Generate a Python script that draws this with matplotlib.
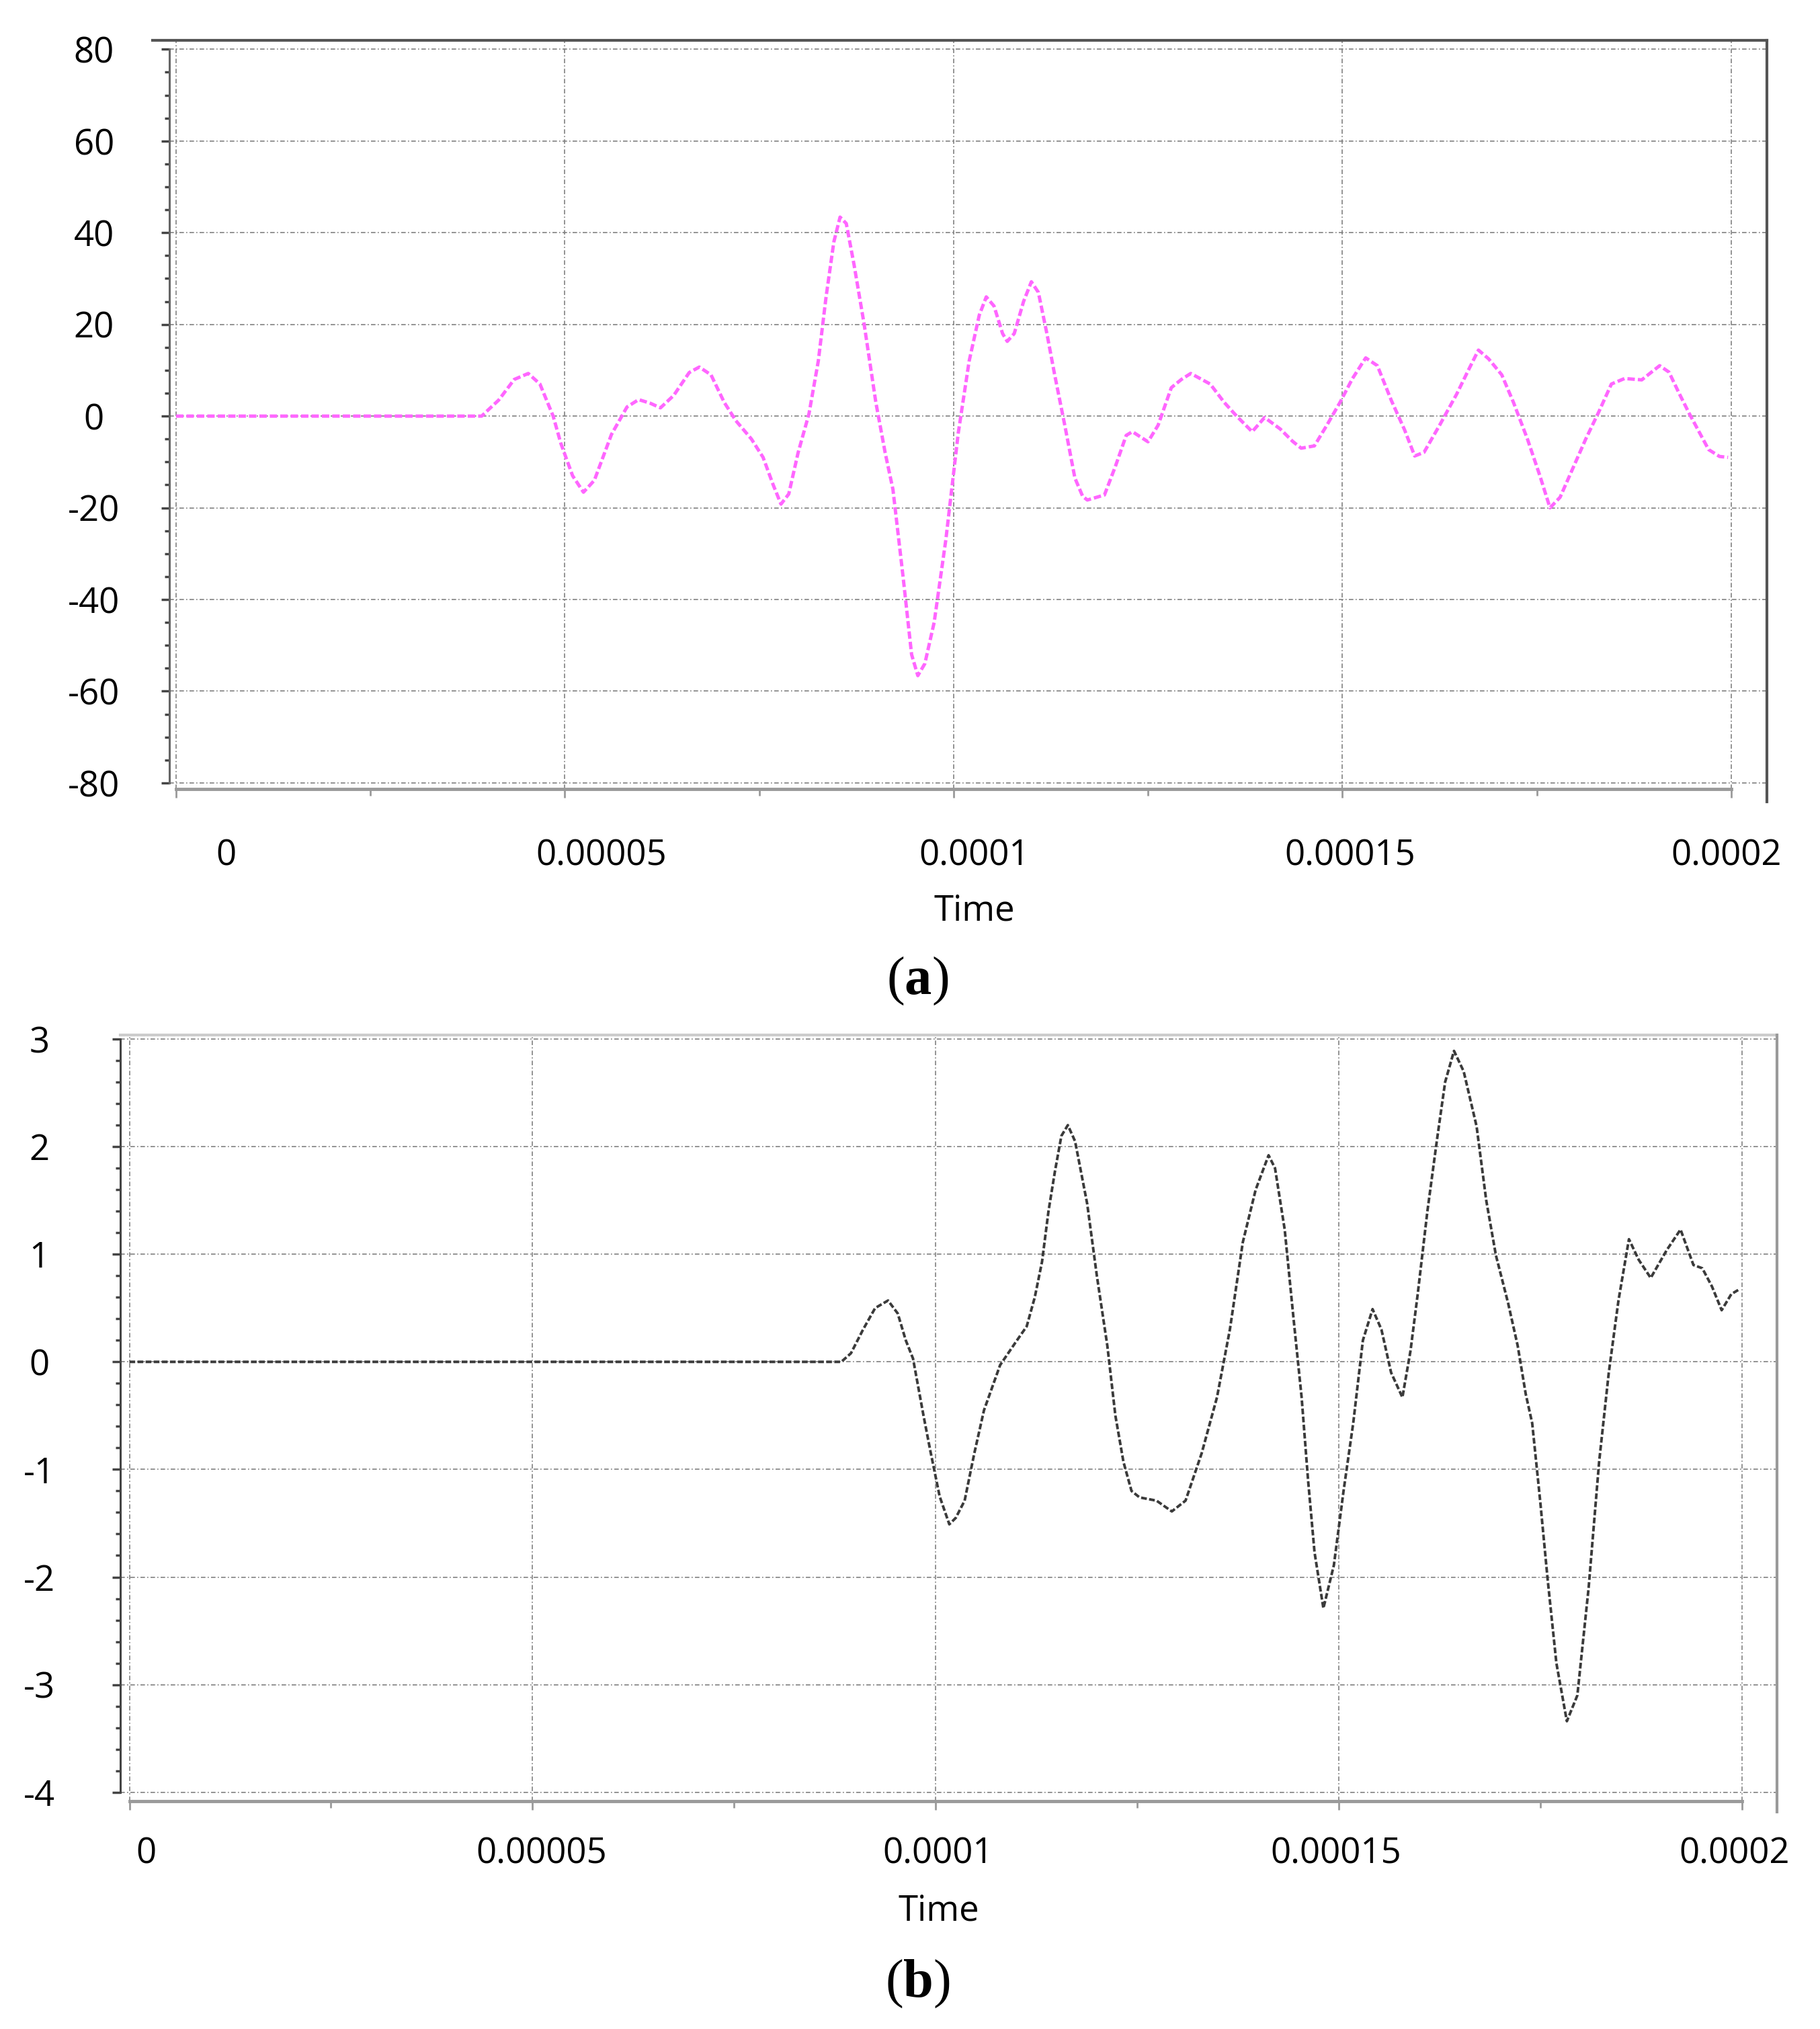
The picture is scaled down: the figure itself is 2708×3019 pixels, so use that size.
import numpy as np
import matplotlib
matplotlib.use("Agg")
import matplotlib.pyplot as plt
from matplotlib.ticker import MultipleLocator, FixedLocator
from matplotlib.transforms import ScaledTranslation

plt.rcParams["font.family"] = ["Open Sans", "DejaVu Sans"]
plt.rcParams["mathtext.fontset"] = "custom"
plt.rcParams["mathtext.rm"] = "Liberation Serif"
plt.rcParams["mathtext.bf"] = "Liberation Serif:bold"

# panel (a): time in microseconds, signal value
time_a_us = [0, 39.3, 41.5, 43.5, 45.3, 46.8, 48.5, 49.5, 51, 52.4, 53.8, 56, 58, 59.5, 61, 62.3,
             64, 66, 67.3, 68.8, 70.5, 72, 74, 75.5, 76.8, 77.8, 78.8, 80, 81.4, 82.6, 83.6, 84.6,
             85.4, 86.2, 87.2, 88.5, 90, 91.2, 92.2, 93.5, 94.6, 95.4, 96.3, 97.5, 99, 100.6, 102,
             103.3, 104.2, 105.2, 106.3, 106.9, 107.8, 109, 110, 110.9, 112, 113, 114.3, 115.6,
             116.6, 117.2, 119.4, 120.8, 122.2, 123, 124, 125, 126.3, 128, 129.3, 130.5, 133,
             134.8, 136.4, 138.4, 140, 142, 143.6, 144.7, 146.4, 148, 149.7, 151.3, 153, 154.5,
             156.3, 158, 159.3, 160.5, 162.5, 164.7, 166.2, 167.5, 168.8, 170.5, 172, 173.8,
             175.4, 176.7, 178, 180, 181.3, 183, 184.6, 186.3, 188.5, 190.8, 192, 193.3, 194.6,
             197.1, 198.5, 199.6]
value_a = [0, 0, 3.5, 8, 9.3, 7, 0, -6, -13, -16.6, -14, -4, 2, 3.6, 2.8, 1.8,
           4.5, 9.5, 10.7, 9, 3, -1, -5, -9, -15, -19.2, -17, -8, 0.5, 12, 26, 38,
           43.4, 42, 33, 20, 3, -8, -16, -35, -52, -56.6, -54, -45, -27, -3.7, 12,
           22, 26, 24, 18, 16.3, 18, 25, 29.3, 27, 18, 9, -2, -13.5,
           -17.5, -18.3, -17.2, -11, -4.2, -3.4, -4.5, -5.6, -2, 6.2, 8, 9.3, 7,
           3, 0, -3.4, -0.3, -2.8, -5.5, -7, -6.5, -2, 3, 8.2, 12.7, 11,
           3.4, -3, -8.7, -7.9, -2, 4.8, 10, 14.4, 12.5, 9, 3, -5,
           -13, -20, -17.7, -10, -5, 1, 7, 8.2, 7.9, 11, 9.6, 5, 0.6,
           -7.3, -8.8, -9]

# panel (b)
time_b_us = [0, 88.3, 89.5, 91, 92.5, 94.1, 95.3, 96.3, 97.2, 98.5, 99.3, 100.5, 101.7, 102.5,
             103.6, 104.8, 106, 108, 110, 111.3, 112.3, 113.2, 114, 114.8, 115.6, 116.4, 117.3,
             118.8, 120, 121.3, 122.3, 123.3, 124.3, 125.3, 127.4, 129.3, 131, 133, 134.9,
             136.5, 138.1, 139.7, 141.3, 142.1, 143.3, 144.4, 145.4, 146.2, 147, 148.1, 149.4,
             150.6, 151.8, 153, 154.2, 155.3, 156.5, 157.9, 158.9, 159.8, 161, 162.2, 163.2,
             164.3, 165.5, 167.1, 168.3, 169.5, 171, 172.2, 173.2, 174, 175, 175.9, 177, 178.3,
             179.6, 181, 182.3, 183.5, 184.7, 186, 187.2, 188.7, 190.7, 192.4, 194, 195.1,
             196.3, 197.5, 198.7, 199.6]
value_b = [0, 0, 0.08, 0.3, 0.5, 0.57, 0.45, 0.2, 0.03, -0.5, -0.81, -1.25, -1.51, -1.45,
           -1.29, -0.85, -0.45, -0.03, 0.19, 0.33, 0.6, 0.93, 1.4, 1.77, 2.1, 2.2, 2.05,
           1.47, 0.8, 0.15, -0.5, -0.93, -1.2, -1.26, -1.29, -1.39, -1.29, -0.85, -0.33,
           0.3, 1.11, 1.6, 1.92, 1.8, 1.23, 0.4, -0.33, -1.1, -1.77, -2.29, -1.89,
           -1.2, -0.57, 0.2, 0.49, 0.3, -0.1, -0.33, 0.1, 0.63, 1.4, 2.07, 2.6,
           2.89, 2.7, 2.19, 1.5, 0.99, 0.55, 0.15, -0.3, -0.57, -1.3, -2.01, -2.8, -3.34,
           -3.1, -2.1, -0.93, -0.1, 0.57, 1.14, 0.95, 0.78, 1.04, 1.23, 0.9, 0.87,
           0.7, 0.48, 0.63, 0.67]

xticks = [0, 0.00005, 0.0001, 0.00015, 0.0002]
xtick_labels = ["0", "0.00005", "0.0001", "0.00015", "0.0002"]
yticks_a = [-80, -60, -40, -20, 0, 20, 40, 60, 80]
yticks_b = [-4, -3, -2, -1, 0, 1, 2, 3]

W, H = 1406, 1568  # layout measured on the reduced view
fig = plt.figure(figsize=(27.08, 30.19), dpi=100)

grid_kw = dict(color="#808080", lw=1.2, ls=(0, (4, 2, 1, 2)))
FS = 38


def setup(ax, yticks, yminor, ypad, xpad, xoffs, top_col, right_col, left_col, right_ext, top_ext):
    ax.set_xticks(xticks)
    ax.set_xticklabels(xtick_labels)
    ax.xaxis.set_minor_locator(FixedLocator([0.000025, 0.000075, 0.000125, 0.000175]))
    ax.set_yticks(yticks)
    ax.set_yticklabels([str(v) for v in yticks])
    ax.yaxis.set_minor_locator(MultipleLocator(yminor))
    ax.grid(True, which="major", **grid_kw)
    ax.set_axisbelow(True)
    ax.spines["left"].set_bounds(yticks[0], yticks[-1])
    ax.spines["bottom"].set_bounds(xticks[0], xticks[-1])
    ax.spines["left"].set_color(left_col)
    ax.spines["left"].set_linewidth(2.2)
    ax.spines["bottom"].set_color("#9a9a9a")
    ax.spines["bottom"].set_linewidth(3.5)
    ax.spines["top"].set_visible(False)
    ax.spines["right"].set_visible(False)
    ax.plot([top_ext, 1], [1, 1], transform=ax.transAxes, color=top_col, lw=3, clip_on=False)
    ax.plot([1, 1], [right_ext, 1], transform=ax.transAxes, color=right_col, lw=3, clip_on=False)
    ax.tick_params(axis="y", which="major", direction="out", length=9, width=2.5,
                   color="#444444", labelsize=FS, pad=ypad)
    ax.tick_params(axis="y", which="minor", direction="out", length=5, width=2.5, color="#444444")
    ax.tick_params(axis="x", which="major", direction="out", length=9, width=2, color="#9a9a9a",
                   labelsize=FS, pad=xpad)
    ax.tick_params(axis="x", which="minor", direction="out", length=7, width=2, color="#9a9a9a")
    for lab in ax.get_yticklabels():
        lab.set_horizontalalignment("center")
    for lab, dx in zip(ax.get_xticklabels(), xoffs):
        lab.set_transform(lab.get_transform() + ScaledTranslation(dx / 72, 0, fig.dpi_scale_trans))
    ax.set_xlabel("Time", fontsize=FS, va="center")


# ---- panel (a)
ax1 = fig.add_axes([131 / W, 1 - 610 / H, (1365 - 131) / W, (610 - 31) / H])
ax1.plot(np.array(time_a_us) * 1e-6, value_a, color="#ff66ff", lw=3.6, ls=(0, (2.2, 0.9)),
         dash_joinstyle="round", dash_capstyle="butt")
ax1.set_xlim(-8.3e-7, 2.046e-4)
ax1.set_ylim(-81.4, 82.0)
setup(ax1, yticks_a, 5, 72, 43, [54, 39, 22, 8, -5.5], "#555555", "#555555", "#666666", -0.017, -0.0105)
ax1.xaxis.set_label_coords((753 - 131) / (1365 - 131), (610 - 704) / (610 - 31))

# ---- panel (b)
ax2 = fig.add_axes([93 / W, 1 - 1392 / H, (1373 - 93) / W, (1392 - 800) / H])
ax2.plot(np.array(time_b_us) * 1e-6, value_b, color="#3a3a3a", lw=2.8, ls=(0, (2.2, 0.9)),
         dash_joinstyle="round")
ax2.set_xlim(-1.12e-6, 2.044e-4)
ax2.set_ylim(-4.084, 3.036)
setup(ax2, yticks_b, 0.2, 78, 28, [18, 9.7, 2.8, -2.8, -8.3], "#cccccc", "#9a9a9a", "#444444", -0.014, 0)
ax2.xaxis.set_label_coords((725 - 93) / (1373 - 93), (1392 - 1477) / (1392 - 800))

fig.text(709 / W, 1 - 757 / H, r"$(\mathbf{a})$", fontsize=58, ha="center", va="center")
fig.text(709 / W, 1 - 1532 / H, r"$(\mathbf{b})$", fontsize=58, ha="center", va="center")

fig.savefig("out.png", dpi=100)
